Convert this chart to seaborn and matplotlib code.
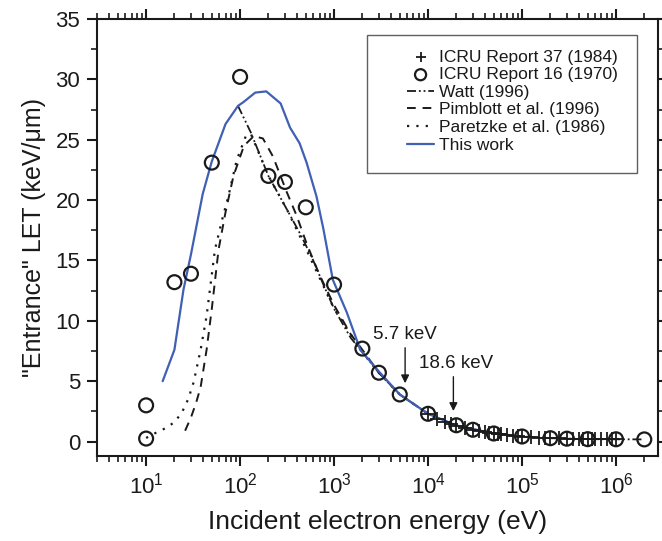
import numpy as np
import pandas as pd
import matplotlib
matplotlib.use("Agg")
import matplotlib.pyplot as plt
import matplotlib.ticker as mticker
from matplotlib.patches import Rectangle
import seaborn as sns

# ---------------- data ----------------
icru16_E = [10, 10, 20, 30, 50, 100, 200, 300, 500, 1000, 2000, 3000, 5000,
            1e4, 2e4, 3e4, 5e4, 1e5, 2e5, 3e5, 5e5, 1e6, 2e6]
icru16_LET = [3.0, 0.25, 13.2, 13.9, 23.1, 30.2, 22.0, 21.5, 19.4, 13.0, 7.7, 5.7, 3.9,
              2.3, 1.35, 0.98, 0.67, 0.42, 0.28, 0.24, 0.20, 0.19, 0.18]

icru37_E = [1e4, 1.25e4, 1.5e4, 1.75e4, 2e4, 2.5e4, 3e4, 3.5e4, 4e4, 4.5e4, 5e4, 5.5e4,
            6e4, 7e4, 8e4, 9e4, 1e5, 1.25e5, 1.5e5, 1.75e5, 2e5, 2.5e5, 3e5, 3.5e5,
            4e5, 4.5e5, 5e5, 5.5e5, 6e5, 7e5, 8e5, 9e5, 1e6]
icru37_LET = [2.26, 1.90, 1.65, 1.47, 1.33, 1.12, 0.98, 0.87, 0.79, 0.72, 0.67, 0.63,
              0.59, 0.53, 0.49, 0.45, 0.42, 0.37, 0.33, 0.30, 0.28, 0.26, 0.24, 0.22,
              0.21, 0.20, 0.20, 0.19, 0.19, 0.18, 0.18, 0.18, 0.19]

watt_E = [95, 130, 200, 316, 450, 600, 770, 1000, 1500, 2000, 3000, 5000,
          1e4, 2e4, 5e4, 1e5, 2e5, 5e5, 1e6, 2e6]
watt_LET = [27.8, 25.6, 22.0, 19.2, 17.0, 15.0, 13.0, 11.0, 8.6, 7.4, 5.7, 3.9,
            2.3, 1.33, 0.67, 0.42, 0.28, 0.20, 0.19, 0.18]

pimblott_E = [26, 30, 34, 38, 44, 50, 59, 70, 85, 110, 140, 175, 224, 316, 400, 510,
              700, 1000, 1500, 2000, 3000, 5000, 1e4]
pimblott_LET = [0.9, 2.0, 3.2, 4.5, 7.6, 11.0, 15.9, 19.0, 22.0, 24.5, 25.3, 25.1, 23.6,
                20.6, 18.7, 16.4, 13.8, 11.3, 8.9, 7.6, 5.7, 3.9, 2.3]

paretzke_E = [10, 12.5, 16, 20, 24, 28, 32, 38, 44, 54, 65, 75, 92, 115, 130, 200, 316,
              500, 1000, 2000, 3000, 5000, 1e4]
paretzke_LET = [0.3, 0.7, 1.1, 1.6, 2.4, 3.5, 4.9, 7.6, 10.4, 15.9, 18.5, 20.3, 23.3,
                25.3, 25.5, 22.0, 19.2, 16.0, 11.0, 7.4, 5.7, 3.9, 2.3]

this_E = [15, 20, 25, 30, 40, 50, 70, 95, 108, 145, 190, 270, 340, 430, 510, 650, 770,
          970, 1365, 1900, 3000, 5000, 1e4, 2e4, 5e4, 1e5]
this_LET = [5.0, 7.6, 12.6, 15.5, 20.5, 23.2, 26.3, 27.8, 28.1, 28.9, 29.0, 28.0, 26.0,
            24.7, 23.1, 20.3, 17.6, 13.4, 10.7, 7.6, 5.8, 3.9, 2.3, 1.33, 0.67, 0.42]

ann_labels = ["5.7 keV", "18.6 keV"]
ann_E = [5700, 18600]

xtick_vals = [1e1, 1e2, 1e3, 1e4, 1e5, 1e6]
ytick_vals = [0, 5, 10, 15, 20, 25, 30, 35]

# ---------------- style ----------------
sns.set_theme(style="ticks")
plt.rcParams['font.family'] = ['Liberation Sans', 'DejaVu Sans']
plt.rcParams['mathtext.default'] = 'regular'
plt.rcParams['axes.linewidth'] = 1.5
plt.rcParams['text.color'] = 'k'
plt.rcParams['axes.labelcolor'] = 'k'

BLUE = '#4060B4'

fig = plt.figure(figsize=(6.62, 5.41), dpi=100)
ax = fig.add_axes([0.1465, 0.157, 0.8475, 0.808])

# lines
sns.lineplot(x=paretzke_E, y=paretzke_LET, ax=ax, color='k', sort=False,
             linestyle=(0, (1, 3.2)), lw=1.6, label='Paretzke et al. (1986)')
sns.lineplot(x=pimblott_E, y=pimblott_LET, ax=ax, color='k', sort=False,
             linestyle=(0, (4.5, 3.5)), lw=1.4, label='Pimblott et al. (1996)')
sns.lineplot(x=watt_E, y=watt_LET, ax=ax, color='k', sort=False,
             linestyle=(0, (5, 1.6, 1, 1.6, 1, 1.6)), lw=1.3, label='Watt (1996)')
sns.lineplot(x=this_E, y=this_LET, ax=ax, color=BLUE, sort=False,
             lw=1.6, label='This work')

# markers
sns.scatterplot(x=icru37_E, y=icru37_LET, ax=ax, marker='+', color='k', s=90,
                linewidth=1.3, label='ICRU Report 37 (1984)', zorder=4)
sns.scatterplot(x=icru16_E, y=icru16_LET, ax=ax, marker='o', s=100,
                facecolor='none', edgecolor='k', linewidth=1.6,
                label='ICRU Report 16 (1970)', zorder=5)

ax.set_xscale('log')
ax.set_xlim(3, 2.8e6)
ax.set_ylim(-1.2, 35)

ax.set_xticks(xtick_vals)
ax.xaxis.set_major_formatter(mticker.LogFormatterMathtext())
ax.xaxis.set_minor_locator(mticker.LogLocator(base=10, subs=np.arange(2, 10), numticks=20))
ax.xaxis.set_minor_formatter(mticker.NullFormatter())
ax.set_yticks(ytick_vals)
ax.yaxis.set_minor_locator(mticker.MultipleLocator(2.5))

ax.tick_params(which='both', direction='out', top=True, right=True,
               labeltop=False, labelright=False, labelsize=16, colors='k')
ax.tick_params(which='major', length=7, width=1.5, pad=5)
ax.tick_params(which='minor', length=4, width=1.2)
for sp in ax.spines.values():
    sp.set_visible(True)
    sp.set_color('k')
    sp.set_linewidth(1.5)

ax.set_xlabel('Incident electron energy (eV)', fontsize=19, labelpad=8)
ax.set_ylabel('"Entrance" LET (keV/\u03bcm)', fontsize=18, labelpad=7)

# annotations
ax.annotate('', xy=(ann_E[0], 4.6), xytext=(ann_E[0], 8.0),
            arrowprops=dict(arrowstyle='-|>', color='k', lw=1.0, mutation_scale=12))
ax.text(ann_E[0], 8.9, ann_labels[0], ha='center', va='center', fontsize=13.5, color='k')
ax.annotate('', xy=(ann_E[1], 2.3), xytext=(ann_E[1], 5.6),
            arrowprops=dict(arrowstyle='-|>', color='k', lw=1.0, mutation_scale=12))
ax.text(ann_E[1] * 1.06, 6.5, ann_labels[1], ha='center', va='center', fontsize=13.5, color='k')

# legend
handles, labels = ax.get_legend_handles_labels()
order = ['ICRU Report 37 (1984)', 'ICRU Report 16 (1970)', 'Watt (1996)',
         'Pimblott et al. (1996)', 'Paretzke et al. (1986)', 'This work']
hmap = dict(zip(labels, handles))
box = Rectangle((0.481, 0.6476), 0.4816, 0.3154, transform=ax.transAxes,
                facecolor='white', edgecolor='#606060', lw=1.0, zorder=6)
ax.add_patch(box)
leg = ax.legend([hmap[k] for k in order], order, loc='upper left',
                bbox_to_anchor=(0.552, 0.93), frameon=False, fontsize=12.5,
                handlelength=1.6, handletextpad=0.25, labelspacing=0.14,
                borderpad=0, borderaxespad=0, markerscale=0.8)
leg.set_zorder(7)

fig.savefig('out.png', dpi=100)
